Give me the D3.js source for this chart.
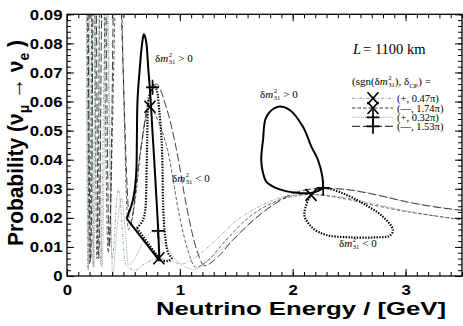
<!DOCTYPE html>
<html>
<head>
<meta charset="utf-8">
<script src="https://cdn.jsdelivr.net/npm/d3@7"></script>
<style>
  body { margin: 0; background: #fff; }
  svg { display: block; }
</style>
</head>
<body>
<svg id="chart" width="463" height="326"></svg>
<script>
// ---- data (energy in GeV, probability) ----
const xTickValues = [0, 1, 2, 3];
const yTickValues = [0, 0.01, 0.02, 0.03, 0.04, 0.05, 0.06, 0.07, 0.08, 0.09];

// thin curves: P(nu_mu -> nu_e) vs E
const curvePlus047 = [ // (+, 0.47pi)
  [0.168,0.14],[0.185,0.002],[0.205,0.15],[0.23,0.003],[0.26,0.14],[0.298,0.004],[0.345,0.105],
  [0.40,0.006],[0.455,0.03],[0.52,0.004],[0.6,0.002],[0.7,0.0045],[0.81,0.006],[0.92,0.005],
  [1.02,0.0042],[1.15,0.0068],[1.32,0.0124],[1.5,0.019],[1.7,0.0238],[1.9,0.027],[2.157,0.0281],
  [2.4,0.0273],[2.7,0.025],[3.0,0.0224],[3.25,0.0208],[3.5,0.0195]
];
const curveMinus174 = [ // (-, 1.74pi)
  [0.175,0.14],[0.2,0.004],[0.232,0.15],[0.265,0.006],[0.305,0.14],[0.365,0.008],[0.455,0.12],
  [0.545,0.016],[0.6,0.025],[0.66,0.045],[0.735,0.058],[0.8,0.054],[0.89,0.0435],[1.0,0.02],
  [1.07,0.009],[1.14,0.003],[1.25,0.0055],[1.41,0.0124],[1.6,0.0198],[1.8,0.0248],[2.0,0.0274],
  [2.157,0.028],[2.4,0.027],[2.7,0.0245],[3.0,0.0222],[3.25,0.0207],[3.5,0.0193]
];
const curvePlus032 = [ // (+, 0.32pi)
  [0.17,0.14],[0.19,0.002],[0.212,0.15],[0.238,0.003],[0.27,0.14],[0.31,0.003],[0.355,0.1],
  [0.404,0.0003],[0.44,0.015],[0.484,0.0267],[0.515,0.016],[0.545,0.0038],[0.6,0.006],[0.68,0.012],
  [0.764,0.0152],[0.86,0.011],[0.98,0.005],[1.13,0.0023],[1.3,0.007],[1.47,0.0124],[1.65,0.019],
  [1.85,0.0255],[2.05,0.0292],[2.27,0.0302],[2.5,0.0297],[2.75,0.028],[3.0,0.0255],[3.25,0.024],[3.5,0.0225]
];
const curveMinus153 = [ // (-, 1.53pi)
  [0.18,0.14],[0.21,0.005],[0.245,0.15],[0.28,0.006],[0.325,0.14],[0.375,0.01],[0.43,0.13],
  [0.56,0.018],[0.64,0.04],[0.72,0.06],[0.79,0.066],[0.88,0.058],[0.97,0.0435],[1.06,0.0238],
  [1.15,0.0089],[1.22,0.0035],[1.32,0.006],[1.47,0.0124],[1.65,0.0192],[1.85,0.025],[2.05,0.029],
  [2.27,0.0302],[2.5,0.0296],[2.75,0.0278],[3.0,0.0256],[3.25,0.0238],[3.5,0.0226]
];

// thick loops (peak positions as delta_CP varies)
const loopNormalLow = [
  [0.528,0.0198],[0.558,0.0227],[0.584,0.0261],[0.602,0.0303],[0.615,0.0365],[0.619,0.0468],
  [0.625,0.0605],[0.646,0.0719],[0.664,0.0794],[0.681,0.0831],[0.699,0.0812],[0.719,0.072],
  [0.741,0.0605],[0.758,0.0492],[0.773,0.0399],[0.788,0.0296],[0.801,0.021],[0.81,0.0141],
  [0.817,0.0072],[0.82,0.0052]
];
const jumpNormalLow = [[0.82,0.0052],[0.528,0.0198]];
const loopInvertedLow = [
  [0.62,0.0165],[0.67,0.019],[0.693,0.0225],[0.702,0.03],[0.705,0.0354],[0.711,0.0468],
  [0.719,0.0595],[0.735,0.0629],[0.764,0.0657],[0.794,0.064],[0.817,0.0571],[0.838,0.0468],
  [0.847,0.0354],[0.852,0.0237],[0.867,0.0148],[0.896,0.0079],[0.927,0.0061],[0.894,0.0052],
  [0.832,0.0052]
];
const jumpInvertedLow = [[0.832,0.0052],[0.62,0.0165]];
const loopNormalHigh = [
  [2.27,0.0303],[2.263,0.0341],[2.224,0.0399],[2.165,0.0445],[2.091,0.0513],[1.973,0.0571],
  [1.87,0.0582],[1.767,0.0548],[1.737,0.0468],[1.721,0.0399],[1.735,0.0358],[1.767,0.0324],
  [1.885,0.0298],[2.033,0.0286],[2.15,0.0285],[2.221,0.0292],[2.27,0.0303]
];
const loopInvertedHigh = [
  [2.239,0.0298],[2.298,0.0302],[2.445,0.0284],[2.622,0.025],[2.799,0.0204],[2.888,0.0158],
  [2.858,0.0138],[2.741,0.0133],[2.504,0.0133],[2.298,0.0141],[2.18,0.0164],[2.106,0.0204],
  [2.115,0.0238],[2.165,0.0279],[2.239,0.0298]
];

const crossMarks = [[0.735,0.0582],[0.814,0.0061],[2.162,0.0279]];
const plusMarks = [[0.758,0.0649],[0.808,0.0155],[2.27,0.0303]];

const legendLabels = ["(+, 0.47π)", "(—, 1.74π)", "(+, 0.32π)", "(—, 1.53π)"];
const legendMarks = ["x", "x", "+", "+"];

// ---- drawing ----
const svg = d3.select("#chart");
const serif = "'Liberation Serif', 'Times New Roman', serif";
const sans = "'Liberation Sans', Arial, Helvetica, sans-serif";

const x = d3.scaleLinear().domain([0, 3.5]).range([67, 462]);
const y = d3.scaleLinear().domain([0, 0.09]).range([276, 14.3]);

svg.append("defs").append("clipPath").attr("id", "plotClip")
  .append("rect")
  .attr("x", x(0)).attr("y", y(0.09))
  .attr("width", x(3.5) - x(0)).attr("height", y(0) - y(0.09));

const plot = svg.append("g").attr("clip-path", "url(#plotClip)");

const smooth = d3.line().x(d => x(d[0])).y(d => y(d[1])).curve(d3.curveMonotoneX);
const loopLine = d3.line().x(d => x(d[0])).y(d => y(d[1])).curve(d3.curveCatmullRom.alpha(0.5));
const straight = d3.line().x(d => x(d[0])).y(d => y(d[1]));

const styles = [
  { data: curvePlus047, color: "#8fa3a3", dash: "3,1.6,1,1.6", w: 0.9 },
  { data: curveMinus174, color: "#3a3a3a", dash: "3.5,2", w: 0.8 },
  { data: curvePlus032, color: "#8fa3a3", dash: "1,1.2", w: 1.0 },
  { data: curveMinus153, color: "#111", dash: "8,3", w: 0.8 }
];

styles.forEach(s => {
  plot.append("path")
    .attr("d", smooth(s.data))
    .attr("fill", "none")
    .attr("stroke", s.color)
    .attr("stroke-width", s.w)
    .attr("stroke-dasharray", s.dash);
});

// thick loops
[loopNormalLow, loopNormalHigh].forEach(d => {
  plot.append("path").attr("d", loopLine(d))
    .attr("fill", "none").attr("stroke", "#000").attr("stroke-width", 2);
});
plot.append("path").attr("d", straight(jumpNormalLow))
  .attr("fill", "none").attr("stroke", "#000").attr("stroke-width", 2);

[loopInvertedLow, loopInvertedHigh].forEach(d => {
  plot.append("path").attr("d", loopLine(d))
    .attr("fill", "none").attr("stroke", "#000").attr("stroke-width", 2.2)
    .attr("stroke-dasharray", "1.4,1.4");
});
plot.append("path").attr("d", straight(jumpInvertedLow))
  .attr("fill", "none").attr("stroke", "#000").attr("stroke-width", 2.2)
  .attr("stroke-dasharray", "1.4,1.4");

// markers
const crossPath = "M-5.5,-6L5.5,6M-5.5,6L5.5,-6";
const plusPath = "M-6.5,0L6.5,0M0,-7.5L0,7.5";
svg.selectAll(".cross").data(crossMarks).enter().append("path")
  .attr("class", "cross")
  .attr("transform", d => `translate(${x(d[0])},${y(d[1])})`)
  .attr("d", crossPath).attr("stroke", "#000").attr("stroke-width", 1.7).attr("fill", "none");
svg.selectAll(".plus").data(plusMarks).enter().append("path")
  .attr("class", "plus")
  .attr("transform", d => `translate(${x(d[0])},${y(d[1])})`)
  .attr("d", plusPath).attr("stroke", "#000").attr("stroke-width", 1.7).attr("fill", "none");

// axes (ticks inside)
const xMinor = d3.range(0, 3.501, 0.1);
const yMinor = d3.range(0, 0.0901, 0.002);
const fmtY = d => d === 0 ? "0" : d3.format(".2f")(d);

function styleAxis(g) {
  g.select(".domain").remove();
  g.selectAll(".tick line").attr("stroke", "#000").attr("stroke-width", 1);
  g.selectAll(".tick text")
    .attr("fill", "#000")
    .attr("font-family", sans)
    .attr("font-weight", "bold")
    .attr("font-size", 15)
    .attr("transform", "scale(1.12,1)");
}

svg.append("g").attr("transform", `translate(0,${y(0)})`)
  .call(d3.axisBottom(x).tickValues(xMinor).tickSize(-4).tickFormat("")).call(styleAxis);
svg.append("g").attr("transform", `translate(0,${y(0)})`)
  .call(d3.axisBottom(x).tickValues(xTickValues).tickSize(-7).tickPadding(8).tickFormat(d3.format("d")))
  .call(styleAxis);
svg.append("g").attr("transform", `translate(0,${y(0.09)})`)
  .call(d3.axisTop(x).tickValues(xMinor).tickSize(-4).tickFormat("")).call(styleAxis);
svg.append("g").attr("transform", `translate(0,${y(0.09)})`)
  .call(d3.axisTop(x).tickValues(xTickValues).tickSize(-7).tickFormat("")).call(styleAxis);

svg.append("g").attr("transform", `translate(${x(0)},0)`)
  .call(d3.axisLeft(y).tickValues(yMinor).tickSize(-4).tickFormat("")).call(styleAxis);
svg.append("g").attr("transform", `translate(${x(0)},0)`)
  .call(d3.axisLeft(y).tickValues(yTickValues).tickSize(-7).tickPadding(4).tickFormat(fmtY))
  .call(styleAxis);
svg.append("g").attr("transform", `translate(${x(3.5)},0)`)
  .call(d3.axisRight(y).tickValues(yMinor).tickSize(-4).tickFormat("")).call(styleAxis);
svg.append("g").attr("transform", `translate(${x(3.5)},0)`)
  .call(d3.axisRight(y).tickValues(yTickValues).tickSize(-7).tickFormat("")).call(styleAxis);

// frame
svg.append("rect")
  .attr("x", x(0)).attr("y", y(0.09))
  .attr("width", x(3.5) - x(0)).attr("height", y(0) - y(0.09))
  .attr("fill", "none").attr("stroke", "#000").attr("stroke-width", 1.3);

// axis titles
svg.append("text")
  .attr("x", 301).attr("y", 315)
  .attr("text-anchor", "middle")
  .attr("font-family", sans).attr("font-weight", "bold").attr("font-size", 19)
  .attr("textLength", 290).attr("lengthAdjust", "spacingAndGlyphs")
  .text("Neutrino Energy / [GeV]");

const yTitle = svg.append("text")
  .attr("transform", "translate(23,143) scale(1.25,1) rotate(-90)")
  .attr("text-anchor", "middle")
  .attr("font-family", sans).attr("font-weight", "bold").attr("font-size", 18)
  .attr("textLength", 206).attr("lengthAdjust", "spacingAndGlyphs");
yTitle.append("tspan").text("Probability (ν");
yTitle.append("tspan").attr("dy", 5).attr("font-size", 12).text("μ");
yTitle.append("tspan").attr("dy", -5).text(" → ν");
yTitle.append("tspan").attr("dy", 5).attr("font-size", 12).text("e");
yTitle.append("tspan").attr("dy", -5).text(" )");

// annotations
const ann = svg.append("g").attr("font-family", serif).attr("fill", "#000");

function txt(g, x0, y0, s, size, italic) {
  const t = g.append("text").attr("x", x0).attr("y", y0).attr("font-size", size).text(s);
  if (italic) t.attr("font-style", "italic");
  return x0 + t.node().getComputedTextLength();
}
function dm2(g, x0, y0, size) {
  let cx = txt(g, x0, y0, "δ", size);
  cx = txt(g, cx, y0, "m", size, true);
  const a = txt(g, cx + 0.5, y0 - size * 0.42, "2", size * 0.6);
  const b = txt(g, cx + 0.5, y0 + size * 0.22, "31", size * 0.6);
  return Math.max(a, b);
}
function dmLabel(x0, y0, tail) {
  const cx = dm2(ann, x0, y0, 11);
  txt(ann, cx + 3, y0, tail, 11);
}

dmLabel(155, 62, "> 0");
dmLabel(260, 98, "> 0");
dmLabel(172, 182, "< 0");
dmLabel(339, 247, "< 0");

// L label
{
  const cx = txt(ann, 353, 54, "L", 14.5, true);
  txt(ann, cx + 2, 54, "= 1100 km", 14.5);
}

// legend header
{
  const yy = 85;
  let cx = txt(ann, 352, yy, "(sgn(", 11);
  cx = dm2(ann, cx, yy, 11);
  cx = txt(ann, cx, yy, "), δ", 11);
  cx = txt(ann, cx, yy + 2.5, "CP", 7);
  txt(ann, cx + 0.5, yy, ") =", 11);
}

// legend rows
const legendY = [98.3, 108, 117.3, 126.3];
legendLabels.forEach((label, i) => {
  const s = styles[i];
  const ly = legendY[i];
  svg.append("line")
    .attr("x1", 352).attr("x2", 393).attr("y1", ly).attr("y2", ly)
    .attr("stroke", s.color).attr("stroke-width", 1).attr("stroke-dasharray", s.dash);
  svg.append("path")
    .attr("transform", `translate(373,${ly})`)
    .attr("d", legendMarks[i] === "x" ? crossPath : plusPath)
    .attr("stroke", "#000").attr("stroke-width", 1.7).attr("fill", "none");
  txt(ann, 397, ly + 3.5, label, 10.5);
});
</script>
</body>
</html>
